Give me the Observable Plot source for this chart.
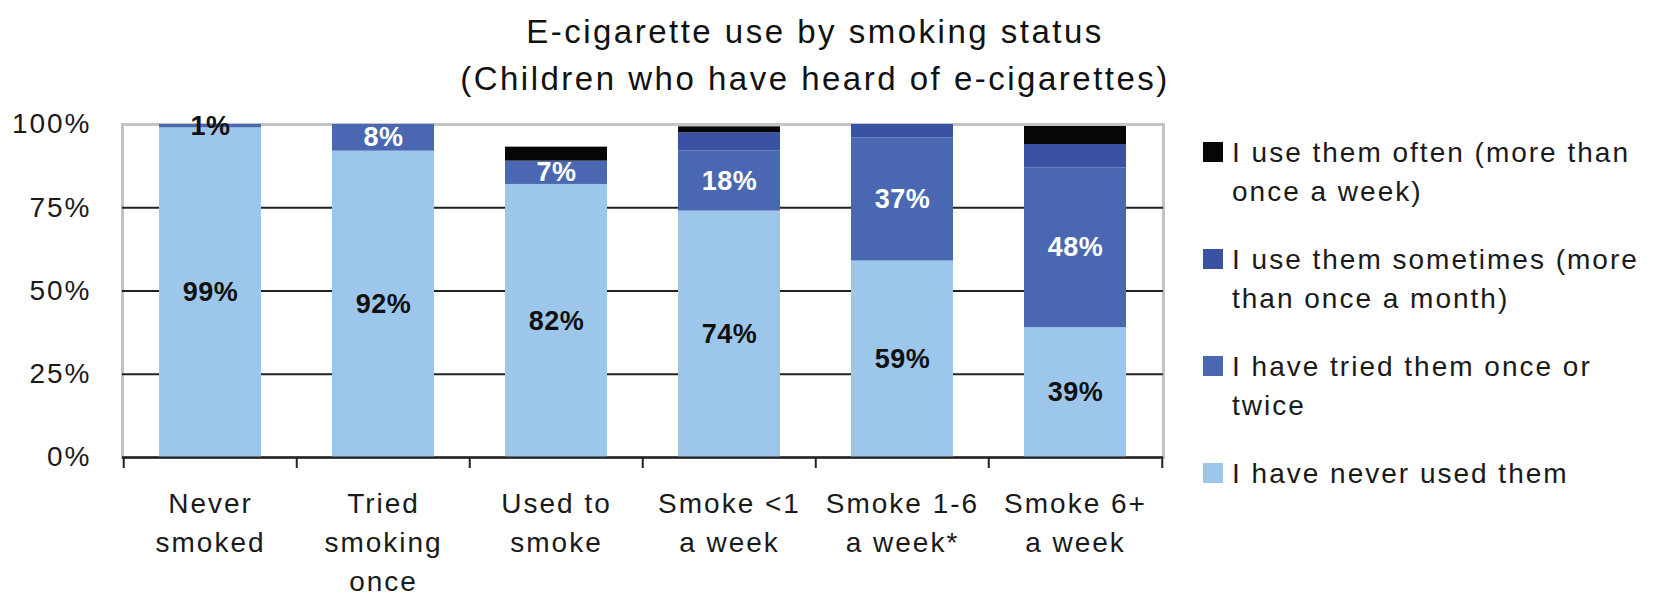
<!DOCTYPE html>
<html>
<head>
<meta charset="utf-8">
<script src="https://cdn.jsdelivr.net/npm/d3@7"></script>
<script src="https://cdn.jsdelivr.net/npm/@observablehq/plot@0.6"></script>
<style>
  body { margin: 0; background: #fff; font-family: "Liberation Sans", Arial, sans-serif; }
  #wrap { position: relative; width: 1661px; height: 597px; overflow: hidden; background: #fff; }
  #title { position: absolute; left: 0; top: 8px; width: 1630px; text-align: center; font-size: 33px; line-height: 47px; letter-spacing: 2.5px; color: #111; }
  #legend { position: absolute; left: 1203px; top: 133px; font-size: 28px; line-height: 39px; letter-spacing: 2px; color: #1a1a1a; }
  .item { position: relative; padding-left: 29px; margin-bottom: 29px; white-space: nowrap; }
  .sw { position: absolute; left: 0; top: 9px; width: 20px; height: 20px; }
  #chart svg text { letter-spacing: 2px; }
  #chart svg g[font-weight="bold"] text { letter-spacing: 0.5px; }
</style>
</head>
<body>
<div id="wrap">
  <div id="chart"></div>
  <div id="title"></div>
  <div id="legend"></div>
</div>
<script>
// ---- data ----
const titleLines = ["E-cigarette use by smoking status", "(Children who have heard of e-cigarettes)"];
const categories = ["Never smoked", "Tried smoking once", "Used to smoke", "Smoke <1 a week", "Smoke 1-6 a week*", "Smoke 6+ a week"];
const categoryLabels = ["Never\nsmoked", "Tried\nsmoking\nonce", "Used to\nsmoke", "Smoke <1\na week", "Smoke 1-6\na week*", "Smoke 6+\na week"];
const seriesNames = ["I have never used them", "I have tried them once or twice", "I use them sometimes (more than once a month)", "I use them often (more than once a week)"];
const legendLines = [
  ["I use them often (more than", "once a week)"],
  ["I use them sometimes (more", "than once a month)"],
  ["I have tried them once or", "twice"],
  ["I have never used them"]
];
const neverUsed = [99, 92, 82, 74, 59, 39];
const triedOnce = [1, 8, 7, 18, 37, 48];
const sometimes = [0, 0, 0, 5.5, 4, 7];
const often = [0, 0, 4.2, 1.8, 0, 5.4];
const neverLabels = ["99%", "92%", "82%", "74%", "59%", "39%"];
const triedLabels = ["1%", "8%", "7%", "18%", "37%", "48%"];
const yTicks = [0, 25, 50, 75, 100];
const yTickLabels = ["0%", "25%", "50%", "75%", "100%"];
const colors = ["#9DC7EA", "#4A68B2", "#3A52A3", "#060608"];

// ---- table ----
const seriesValues = [neverUsed, triedOnce, sometimes, often];
const seriesLabels = [neverLabels, triedLabels, null, null];
const rows = [];
seriesNames.forEach((s, j) => {
  categories.forEach((c, i) => {
    const v = seriesValues[j][i];
    const lab = seriesLabels[j] ? seriesLabels[j][i] : "";
    const dark = j === 0 || v < 2;
    rows.push({category: c, series: s, value: v, darkLabel: dark ? lab : "", lightLabel: dark ? "" : lab});
  });
});

// ---- layout ----
const W = 1661, H = 597, ml = 122, mr = 498, mt = 124, mb = 140;
const step = (W - ml - mr) / categories.length;

const chart = Plot.plot({
  width: W, height: H,
  marginLeft: ml, marginRight: mr, marginTop: mt, marginBottom: mb,
  style: {fontFamily: "'Liberation Sans', Arial, sans-serif", background: "transparent", color: "#1a1a1a", overflow: "visible"},
  x: {domain: categories, paddingInner: 0.41, paddingOuter: 0.205, axis: null},
  y: {domain: [0, 100], axis: null},
  color: {domain: seriesNames, range: colors},
  marks: [
    Plot.frame({stroke: "#c3c3c3", strokeWidth: 3}),
    Plot.ruleY(yTicks.filter(v => v < 100), {stroke: "#222", strokeWidth: 2}),
    Plot.barY(rows, {x: "category", y: "value", fill: "series", order: seriesNames}),
    Plot.ruleY([0], {stroke: "#222", strokeWidth: 2}),
    Plot.ruleX(categories, {x: d => d, dx: -step / 2, y1: 0, y2: 0, insetBottom: -11, stroke: "#222", strokeWidth: 2}),
    Plot.ruleX(categories.slice(-1), {x: d => d, dx: step / 2, y1: 0, y2: 0, insetBottom: -11, stroke: "#222", strokeWidth: 2}),
    Plot.text(rows, Plot.stackY({x: "category", y: "value", z: "series", order: seriesNames, text: "darkLabel", fill: "#111", fontSize: 27, fontWeight: "bold"})),
    Plot.text(rows, Plot.stackY({x: "category", y: "value", z: "series", order: seriesNames, text: "lightLabel", fill: "#fff", fontSize: 27, fontWeight: "bold"})),
    Plot.text(categories, {x: d => d, text: (d, i) => categoryLabels[i], frameAnchor: "bottom", lineAnchor: "top", dy: 28, fontSize: 28, lineHeight: 1.39, fill: "#1a1a1a"}),
    Plot.text(yTicks, {y: d => d, text: (d, i) => yTickLabels[i], frameAnchor: "left", textAnchor: "end", dx: -31, fontSize: 28, fill: "#1a1a1a"})
  ]
});
document.getElementById("chart").appendChild(chart);

// title
document.getElementById("title").innerHTML = titleLines.join("<br>");

// legend (top to bottom: often, sometimes, tried, never)
const legend = d3.select("#legend");
[3, 2, 1, 0].forEach((j, k) => {
  const item = legend.append("div").attr("class", "item");
  item.append("div").attr("class", "sw").style("background", colors[j]);
  item.append("div").html(legendLines[k].join("<br>"));
});
</script>
</body>
</html>
